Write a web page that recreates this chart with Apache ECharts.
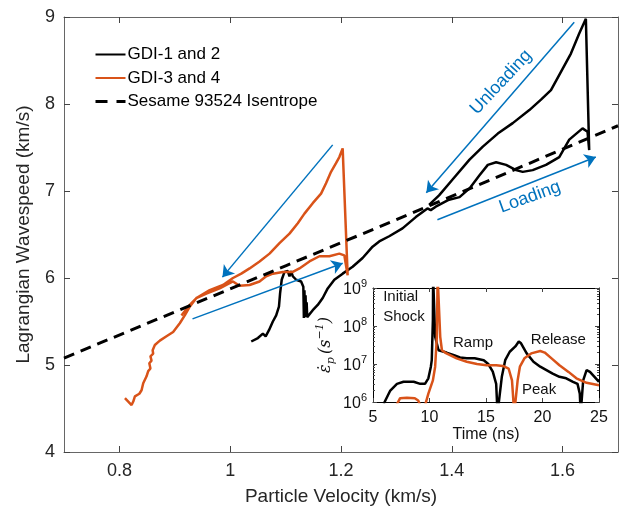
<!DOCTYPE html>
<html>
<head>
<meta charset="utf-8">
<script src="https://cdn.jsdelivr.net/npm/echarts@6/dist/echarts.min.js"></script>
<style>
  html, body { margin: 0; padding: 0; background: #fff; }
  #chart { width: 623px; height: 508px; }
</style>
</head>
<body>
<div id="chart"></div>
<script>
// Main plot: particle velocity (km/s) vs Lagrangian wavespeed (km/s)
const gdi12U = [1.038, 1.050, 1.059, 1.064, 1.070, 1.077, 1.083, 1.088, 1.090, 1.093, 1.098, 1.104, 1.107, 1.110, 1.113,
    1.119, 1.128, 1.132, 1.133, 1.134, 1.135, 1.136, 1.137, 1.138, 1.139, 1.140, 1.149, 1.158, 1.167, 1.176, 1.188,
    1.203, 1.221, 1.239, 1.257, 1.269, 1.287, 1.311, 1.335, 1.356, 1.362, 1.371, 1.395, 1.414, 1.432, 1.450, 1.465,
    1.480, 1.498, 1.516, 1.528, 1.546, 1.570, 1.594, 1.612, 1.636, 1.645, 1.648, 1.642, 1.630, 1.615, 1.597, 1.579,
    1.561, 1.540, 1.510, 1.483, 1.456, 1.432, 1.401, 1.377, 1.359];
const gdi12W = [5.27, 5.31, 5.36, 5.33, 5.40, 5.50, 5.57, 5.67, 5.82, 5.98, 6.07, 6.08, 6.02, 6.08, 6.02,
    5.98, 5.96, 5.90, 5.54, 5.86, 5.55, 5.80, 5.56, 5.72, 5.55, 5.57, 5.63, 5.69, 5.77, 5.88, 5.98,
    6.05, 6.13, 6.23, 6.36, 6.42, 6.48, 6.57, 6.70, 6.80, 6.78, 6.82, 6.90, 6.93, 7.03, 7.18, 7.30,
    7.33, 7.30, 7.24, 7.22, 7.24, 7.30, 7.39, 7.59, 7.72, 7.68, 7.47, 8.98, 8.81, 8.58, 8.37, 8.16,
    8.05, 7.93, 7.78, 7.66, 7.51, 7.36, 7.13, 6.95, 6.84];

const gdi34U = [0.810, 0.816, 0.822, 0.825, 0.828, 0.836, 0.840, 0.843, 0.849, 0.852, 0.856, 0.854, 0.858, 0.856,
    0.861, 0.860, 0.864, 0.873, 0.885, 0.897, 0.909, 0.918, 0.927, 0.939, 0.957, 0.981, 0.999, 1.005, 1.017, 1.035,
    1.053, 1.065, 1.077, 1.095, 1.113, 1.125, 1.143, 1.161, 1.179, 1.197, 1.206, 1.212, 1.203, 1.197, 1.191, 1.182,
    1.173, 1.164, 1.149, 1.134, 1.122, 1.107, 1.089, 1.071, 1.053, 1.035, 1.020, 1.005, 0.987, 0.963, 0.939, 0.924, 0.912];
const gdi34W = [4.62, 4.58, 4.54, 4.58, 4.64, 4.67, 4.71, 4.79, 4.87, 4.93, 4.96, 5.02, 5.05, 5.10,
    5.13, 5.17, 5.23, 5.28, 5.33, 5.38, 5.48, 5.57, 5.67, 5.77, 5.82, 5.88, 5.94, 5.96, 5.91, 5.92,
    5.96, 6.02, 6.05, 6.07, 6.07, 6.11, 6.19, 6.25, 6.25, 6.28, 6.26, 6.03, 7.49, 7.39, 7.32, 7.22,
    7.09, 6.97, 6.86, 6.74, 6.63, 6.51, 6.40, 6.28, 6.19, 6.11, 6.05, 6.00, 5.92, 5.86, 5.77, 5.67, 5.57];

const isenU = [0.7, 0.9, 1.1, 1.3, 1.5, 1.7];
const isenW = [5.08, 5.61, 6.14, 6.67, 7.21, 7.75];

// Arrows [u0, w0, u1, w1]
const arrows = [
    [1.185, 7.53, 0.986, 6.01],
    [0.932, 5.53, 1.203, 6.17],
    [1.621, 8.94, 1.354, 6.98],
    [1.374, 6.67, 1.660, 7.39]
];
// Arrow labels [text, u, w, angle]
const arrowLabels = [
    ['Unloading', 1.489, 8.25, 47],
    ['Loading', 1.541, 6.93, 20]
];

// Inset: time (ns) vs plastic strain rate (1/s)
const rate12T = [5.95, 6.53, 7.12, 7.7, 8.6, 9.18, 9.6, 9.9, 10.12, 10.2, 10.3, 10.32, 10.42, 10.5, 10.8,
    11.5, 12.1, 12.7, 13.3, 14.0, 14.8, 15.2, 15.6, 15.9, 16.02, 16.15, 16.4, 16.7, 17.1, 17.6, 17.9, 18.1,
    18.6, 19.2, 19.8, 20.35, 20.9, 21.5, 22.1, 22.7, 23.1, 23.3, 23.38, 23.5, 23.6, 23.9, 24.2, 24.6, 25.0];
const rate12 = [9e5, 2.0e6, 3.0e6, 3.4e6, 3.4e6, 3.0e6, 3.0e6, 4.2e6, 8.5e6, 1.26e7, 1.45e8, 2e9, 2e9, 5.2e7, 2.3e7,
    2.0e7, 1.74e7, 1.48e7, 1.41e7, 1.41e7, 1.26e7, 1.0e7, 6.3e6, 3.0e6, 5e5, 5e5, 4.6e6, 1.26e7, 2.1e7, 2.9e7, 3.9e7, 3.5e7,
    1.9e7, 1.15e7, 8.5e6, 6.9e6, 5.6e6, 4.6e6, 4.2e6, 3.4e6, 3.0e6, 1.66e6, 5e5, 5e5, 3.7e6, 6.9e6, 6.2e6, 4.6e6, 3.4e6];

const rate34T = [7.05, 7.4, 8.0, 8.7, 9.0, 9.2, 9.6, 9.9, 10.3, 10.5, 10.65, 10.72, 10.88, 10.95, 11.1,
    11.5, 12.4, 13.3, 14.2, 15.05, 15.9, 16.5, 17.0, 17.3, 17.5, 17.65, 17.8, 18.0, 18.4, 19.0, 19.8, 20.2,
    20.8, 21.5, 22.3, 23.0, 23.9, 25.0];
const rate34 = [8e5, 1.26e6, 1.29e6, 1.26e6, 1.1e6, 8e5, 8e5, 1.66e6, 3.7e6, 8.5e6, 5.2e7, 2e9, 2e9, 5.2e7, 2.3e7,
    1.9e7, 1.41e7, 1.15e7, 1.0e7, 9.3e6, 9.3e6, 8.9e6, 7.6e6, 3.7e6, 5e5, 5e5, 3.7e6, 8.5e6, 1.41e7, 1.9e7, 2.2e7, 2.0e7,
    1.41e7, 9.3e6, 6.2e6, 4.2e6, 3.2e6, 2.75e6];

// Inset annotations [text, t, rate, align]
const insetLabels = [
    ['Initial\nShock', 5.9, 3.2e8, 'left'],
    ['Ramp', 13.85, 3.5e7, 'center'],
    ['Release', 21.4, 4.3e7, 'center'],
    ['Peak', 19.7, 2.1e6, 'center']
];

const xTicks = [0.8, 1, 1.2, 1.4, 1.6];
const insetMajor = [1e6, 1e7, 1e8, 1e9];
const insetMinor = [];
insetMajor.slice(0, 3).forEach(d => { for (let k = 2; k <= 9; k++) insetMinor.push(d * k); });

const FONT = 'Liberation Sans';
const BLACK = '#000000';
const ORANGE = '#D95319';
const BLUE = '#0072BD';
const AXIS = '#262626';

function pairs(a, b) { return a.map((v, i) => [v, b[i]]); }

const chart = echarts.init(document.getElementById('chart'), null, { renderer: 'canvas' });

const mainLine = { show: true, lineStyle: { color: '#666', width: 1 } };
const tickIn = (len, vals) => Object.assign({ show: true, inside: true, length: len, lineStyle: { color: '#444', width: 1 } },
    vals ? { customValues: vals } : {});
const supLabel = v => '{b|10}{s|' + Math.round(Math.log10(v)) + '}';

const option = {
    backgroundColor: '#fff',
    animation: false,
    textStyle: { fontFamily: FONT },
    grid: [
        { left: 64, right: 5, top: 17, bottom: 56, outerBoundsMode: 'none' },
        { left: 373, width: 226, top: 288, height: 114, outerBoundsMode: 'none', show: true, backgroundColor: '#fff', borderWidth: 0 }
    ],
    legend: {
        data: [
            { name: 'GDI-1 and 2' },
            { name: 'GDI-3 and 4' },
            { name: 'Sesame 93524 Isentrope', lineStyle: { type: [12, 9], width: 3 } }
        ],
        orient: 'vertical', left: 89, top: 41,
        itemWidth: 30, itemHeight: 17, itemGap: 6.5,
        itemStyle: { opacity: 0 },
        selectedMode: false,
        textStyle: { fontSize: 17, color: '#000', fontFamily: FONT, padding: [0, 0, 0, -3] }
    },
    xAxis: [
        {
            gridIndex: 0, type: 'value', min: 0.7, max: 1.7, position: 'bottom',
            name: 'Particle Velocity (km/s)', nameLocation: 'middle', nameGap: 35,
            nameTextStyle: { fontSize: 19, color: AXIS, fontFamily: FONT },
            axisLine: mainLine, axisTick: tickIn(6, xTicks), splitLine: { show: false },
            axisLabel: { customValues: xTicks, fontSize: 18, color: AXIS, margin: 10, fontFamily: FONT }
        },
        {
            gridIndex: 0, type: 'value', min: 0.7, max: 1.7, position: 'top',
            axisLine: mainLine, axisTick: tickIn(6, xTicks), splitLine: { show: false }, axisLabel: { show: false }
        },
        {
            gridIndex: 1, type: 'value', min: 5, max: 25, interval: 5, position: 'bottom',
            name: 'Time (ns)', nameLocation: 'middle', nameGap: 25,
            nameTextStyle: { fontSize: 16, color: '#111', fontFamily: FONT },
            axisLine: { show: true, lineStyle: { color: '#000', width: 1 } }, axisTick: tickIn(4),
            splitLine: { show: false },
            axisLabel: { fontSize: 16, color: '#111', margin: 8, fontFamily: FONT }
        },
        {
            gridIndex: 1, type: 'value', min: 5, max: 25, interval: 5, position: 'top',
            axisLine: { show: true, lineStyle: { color: '#000', width: 1 } }, axisTick: tickIn(4),
            splitLine: { show: false }, axisLabel: { show: false }
        }
    ],
    yAxis: [
        {
            gridIndex: 0, type: 'value', min: 4, max: 9, interval: 1, position: 'left',
            name: 'Lagrangian Wavespeed (km/s)', nameLocation: 'middle', nameGap: 31,
            nameTextStyle: { fontSize: 19, color: AXIS, fontFamily: FONT },
            axisLine: mainLine, axisTick: tickIn(6), splitLine: { show: false },
            axisLabel: { fontSize: 18, color: AXIS, margin: 9, fontFamily: FONT }
        },
        {
            gridIndex: 0, type: 'value', min: 4, max: 9, interval: 1, position: 'right',
            axisLine: mainLine, axisTick: tickIn(6), splitLine: { show: false }, axisLabel: { show: false }
        },
        {
            gridIndex: 1, type: 'log', logBase: 10, min: 1e6, max: 1e9, position: 'left',
            name: '{e|ε̇}{p|p} {e|(s}{u|−1}{e|)}', nameLocation: 'middle', nameGap: 36,
            nameTextStyle: {
                color: '#111',
                rich: {
                    e: { fontSize: 16, fontStyle: 'italic', fontFamily: 'DejaVu Serif', lineHeight: 22, verticalAlign: 'middle' },
                    p: { fontSize: 11, fontStyle: 'italic', fontFamily: 'DejaVu Serif', lineHeight: 22, verticalAlign: 'bottom' },
                    u: { fontSize: 11, fontStyle: 'italic', fontFamily: 'DejaVu Serif', lineHeight: 22, verticalAlign: 'top' }
                }
            },
            axisLine: { show: true, lineStyle: { color: '#000', width: 1 } }, axisTick: tickIn(4, insetMajor),
            splitLine: { show: false },
            axisLabel: {
                customValues: insetMajor, formatter: supLabel, margin: 6, color: '#111',
                rich: {
                    b: { fontSize: 16, fontFamily: FONT, lineHeight: 20, verticalAlign: 'bottom', color: '#111' },
                    s: { fontSize: 11, fontFamily: FONT, lineHeight: 20, verticalAlign: 'top', color: '#111' }
                }
            }
        },
        {
            gridIndex: 1, type: 'log', logBase: 10, min: 1e6, max: 1e9, position: 'right',
            axisLine: { show: true, lineStyle: { color: '#000', width: 1 } }, axisTick: tickIn(4, insetMajor),
            splitLine: { show: false }, axisLabel: { show: false }
        },
        {
            gridIndex: 1, type: 'log', logBase: 10, min: 1e6, max: 1e9, position: 'left',
            axisLine: { show: false }, axisTick: tickIn(2, insetMinor),
            splitLine: { show: false }, axisLabel: { show: false }
        },
        {
            gridIndex: 1, type: 'log', logBase: 10, min: 1e6, max: 1e9, position: 'right',
            axisLine: { show: false }, axisTick: tickIn(2, insetMinor),
            splitLine: { show: false }, axisLabel: { show: false }
        }
    ],
    series: [
        {
            name: 'GDI-1 and 2', type: 'line', xAxisIndex: 0, yAxisIndex: 0,
            data: pairs(gdi12U, gdi12W), symbol: 'none', showSymbol: false,
            lineStyle: { color: BLACK, width: 2.5 }, itemStyle: { color: BLACK }
        },
        {
            name: 'GDI-3 and 4', type: 'line', xAxisIndex: 0, yAxisIndex: 0,
            data: pairs(gdi34U, gdi34W), symbol: 'none', showSymbol: false,
            lineStyle: { color: ORANGE, width: 2.5 }, itemStyle: { color: ORANGE }
        },
        {
            name: 'Sesame 93524 Isentrope', type: 'line', xAxisIndex: 0, yAxisIndex: 0,
            data: pairs(isenU, isenW), symbol: 'none', showSymbol: false,
            lineStyle: { color: BLACK, width: 3, type: [11, 7] }, itemStyle: { color: BLACK },
            markLine: {
                silent: true, symbol: ['none', 'arrow'], symbolSize: 11,
                lineStyle: { color: BLUE, width: 1.5, type: 'solid' },
                itemStyle: { color: BLUE },
                label: { show: false },
                data: arrows.map(a => [{ coord: [a[0], a[1]] }, { coord: [a[2], a[3]] }])
            }
        },
        {
            name: 'rate12', type: 'line', xAxisIndex: 2, yAxisIndex: 2,
            data: pairs(rate12T, rate12), symbol: 'none', showSymbol: false,
            lineStyle: { color: BLACK, width: 2.5 }, itemStyle: { color: BLACK }
        },
        {
            name: 'rate34', type: 'line', xAxisIndex: 2, yAxisIndex: 2,
            data: pairs(rate34T, rate34), symbol: 'none', showSymbol: false,
            lineStyle: { color: ORANGE, width: 2.5 }, itemStyle: { color: ORANGE }
        }
    ]
};

chart.setOption(option);

// Text annotations placed through the axes
const graphics = [];
arrowLabels.forEach(l => {
    const p = chart.convertToPixel({ xAxisIndex: 0, yAxisIndex: 0 }, [l[1], l[2]]);
    graphics.push({
        type: 'text', x: p[0], y: p[1], rotation: l[3] * Math.PI / 180,
        style: { text: l[0], fill: BLUE, font: '18px "Liberation Sans"', align: 'center', verticalAlign: 'middle',
            textAlign: 'center', textVerticalAlign: 'middle' }
    });
});
insetLabels.forEach(l => {
    const p = chart.convertToPixel({ xAxisIndex: 2, yAxisIndex: 2 }, [l[1], l[2]]);
    graphics.push({
        type: 'text', x: p[0], y: p[1], z: 10,
        style: { text: l[0], fill: '#111', font: '15px "Liberation Sans"', lineHeight: 20,
            align: l[3], verticalAlign: 'middle', textAlign: l[3], textVerticalAlign: 'middle' }
    });
});
chart.setOption({ graphic: graphics });
</script>
</body>
</html>
